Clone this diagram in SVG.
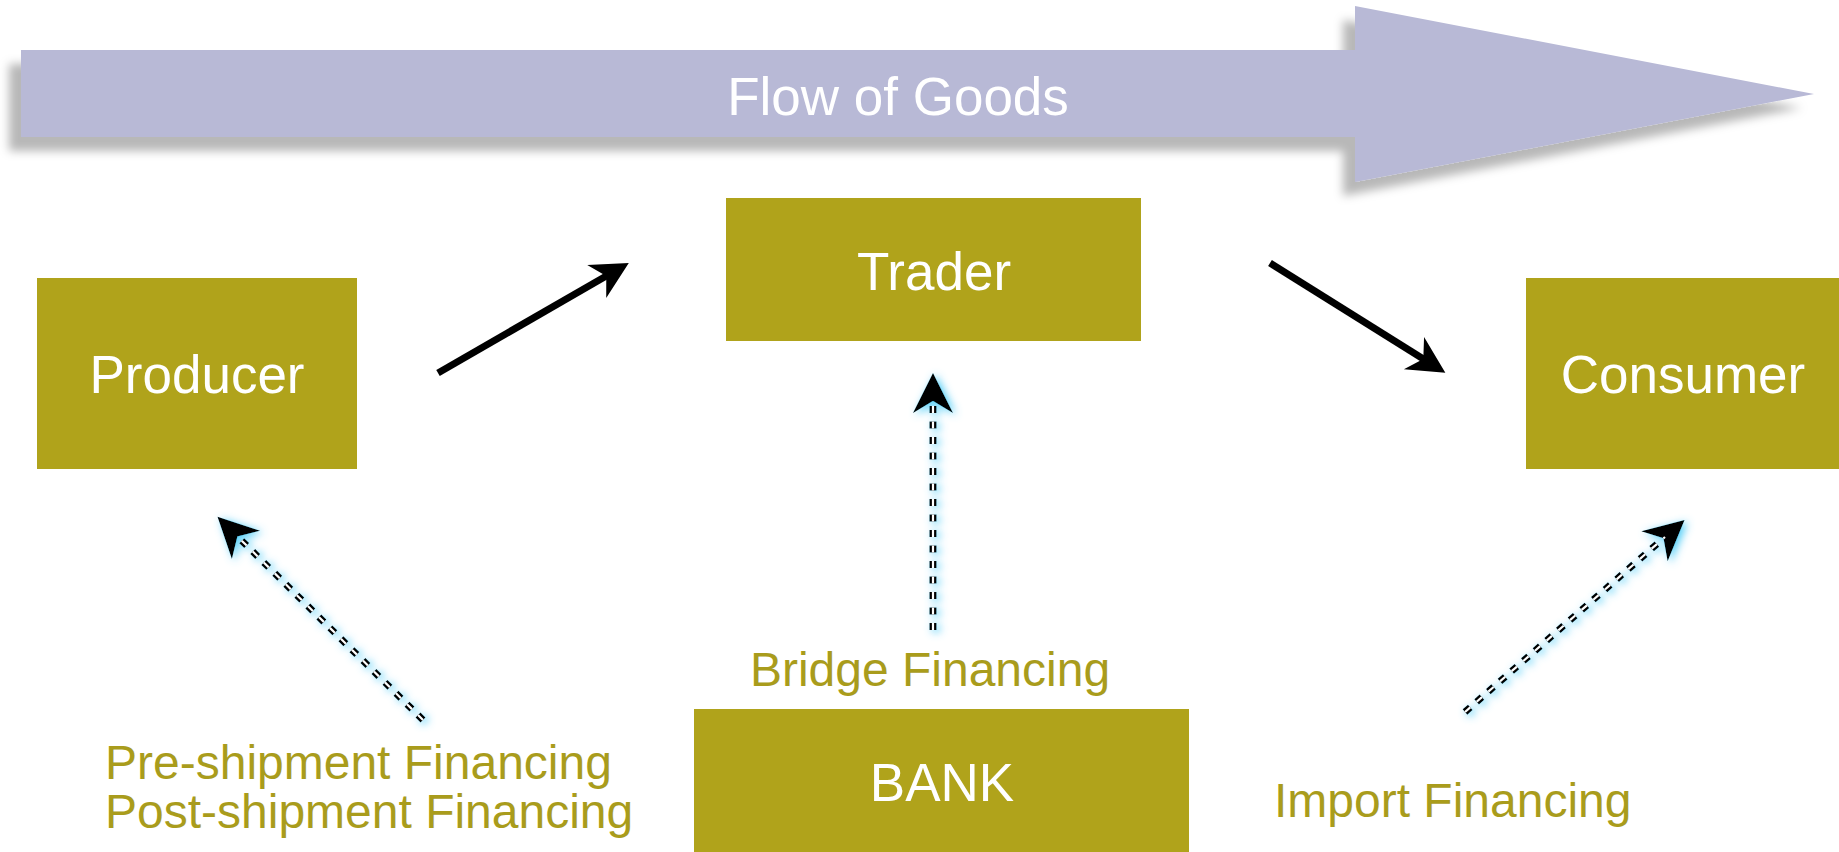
<svg xmlns="http://www.w3.org/2000/svg" width="1839" height="852" viewBox="0 0 1839 852">
<defs>
<style>
.box{fill:#B0A31B}
.bt{font-family:"Liberation Sans",Arial,sans-serif;font-size:53px;fill:#ffffff;text-anchor:middle}
.lbl{font-family:"Liberation Sans",Arial,sans-serif;font-size:48px;fill:#A99C1C}
.solid{stroke:#000;stroke-width:7;fill:none}
.dk{stroke:#000;stroke-width:7;fill:none;stroke-dasharray:7 8.5}
.dw{stroke:#fff;stroke-width:2.2;fill:none;stroke-dasharray:7 8.5}
</style>
<filter id="shadow" x="-5%" y="-20%" width="115%" height="160%">
<feGaussianBlur in="SourceAlpha" stdDeviation="5"/>
<feOffset dx="-12" dy="14" result="b"/>
<feFlood flood-color="#000" flood-opacity="0.28"/>
<feComposite in2="b" operator="in"/>
<feMerge><feMergeNode/><feMergeNode in="SourceGraphic"/></feMerge>
</filter>
<filter id="glow" filterUnits="userSpaceOnUse" x="0" y="0" width="1839" height="852">
<feGaussianBlur in="SourceAlpha" stdDeviation="4"/>
<feOffset dx="3" dy="2" result="b"/>
<feFlood flood-color="#4fcdf7" flood-opacity="1"/>
<feComposite in2="b" operator="in"/>
<feMerge><feMergeNode/><feMergeNode in="SourceGraphic"/></feMerge>
</filter>
<marker id="ah" viewBox="0 0 40 40" refX="14" refY="20" markerWidth="40" markerHeight="40" markerUnits="userSpaceOnUse" orient="auto">
<path d="M38,20 L1,1 L12,20 L1,39 Z" fill="#000"/>
</marker>
<marker id="ahd" viewBox="0 0 44 44" refX="16" refY="22" markerWidth="44" markerHeight="44" markerUnits="userSpaceOnUse" orient="auto">
<path d="M42,22 L2,2 L14,22 L2,42 Z" fill="#000"/>
</marker>
</defs>
<rect width="1839" height="852" fill="#ffffff"/>

<g id="flow-of-goods">
<path d="M21,50 L1355,50 L1355,6 L1814,94 L1355,182 L1355,137 L21,137 Z" fill="#B8B9D6" filter="url(#shadow)"/>
<text x="898" y="115" class="bt">Flow of Goods</text>
</g>

<g id="producer">
<rect class="box" x="37" y="278" width="320" height="191"/>
<text class="bt" x="197" y="393">Producer</text>
</g>
<g id="trader">
<rect class="box" x="726" y="198" width="415" height="143"/>
<text class="bt" x="934" y="290">Trader</text>
</g>
<g id="consumer">
<rect class="box" x="1526" y="278" width="313" height="191"/>
<text class="bt" x="1683" y="393">Consumer</text>
</g>
<g id="bank">
<rect class="box" x="694" y="709" width="495" height="143"/>
<text class="bt" x="942" y="801">BANK</text>
</g>

<g id="labels">
<text class="lbl" x="930" y="686" text-anchor="middle">Bridge Financing</text>
<text class="lbl" x="105" y="779">Pre-shipment Financing</text>
<text class="lbl" x="105" y="828">Post-shipment Financing</text>
<text class="lbl" x="1274" y="817">Import Financing</text>
</g>

<g id="connectors">
<line class="solid" x1="438" y1="373" x2="608" y2="275" marker-end="url(#ah)"/>
<line class="solid" x1="1270" y1="263" x2="1425" y2="360" marker-end="url(#ah)"/>
<g filter="url(#glow)">
<line class="dk" x1="423" y1="720" x2="236" y2="535" marker-end="url(#ahd)"/>
<line class="dw" x1="423" y1="720" x2="236" y2="535"/>
</g>
<g filter="url(#glow)">
<line class="dk" x1="933" y1="630" x2="933" y2="399" marker-end="url(#ahd)"/>
<line class="dw" x1="933" y1="630" x2="933" y2="399"/>
</g>
<g filter="url(#glow)">
<line class="dk" x1="1465" y1="712" x2="1665" y2="537" marker-end="url(#ahd)"/>
<line class="dw" x1="1465" y1="712" x2="1665" y2="537"/>
</g>
</g>
</svg>
